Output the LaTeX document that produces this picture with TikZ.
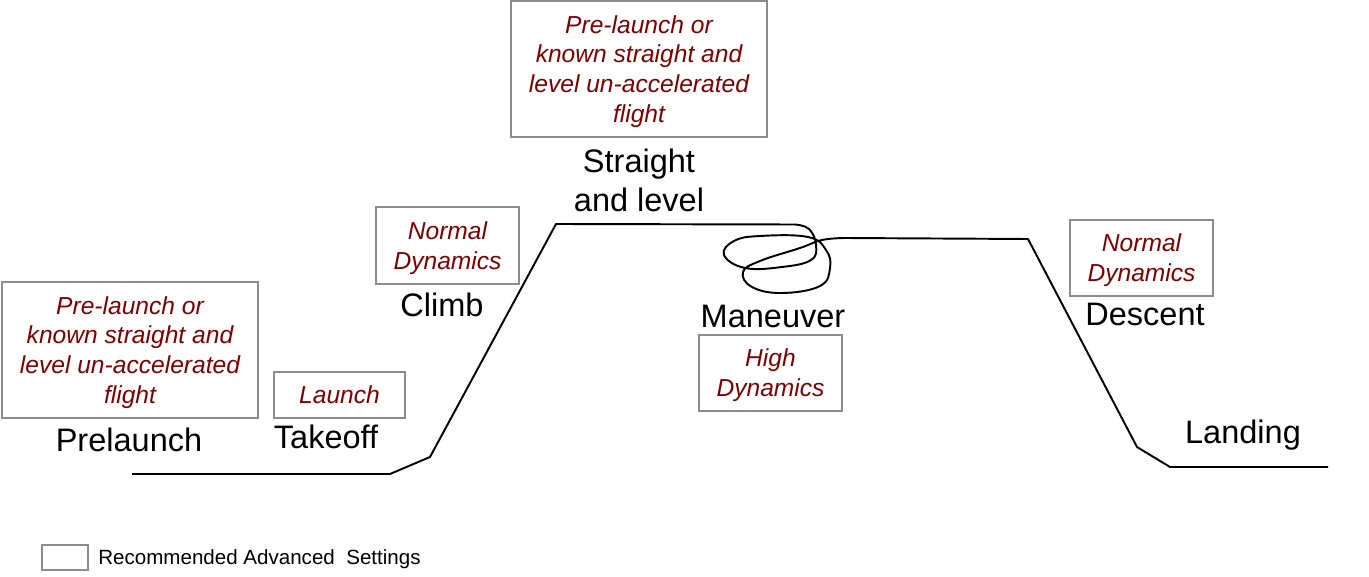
\documentclass[tikz,border=0pt]{standalone}
\usepackage{fontspec}
\setmainfont{Liberation Sans}
\usepackage{xcolor}
\usetikzlibrary{positioning,calc}
\definecolor{settingred}{HTML}{800000}
\definecolor{boxgray}{HTML}{8C8C8C}

\begin{document}
\begin{tikzpicture}[
  x=0.2mm,y=-0.2mm,
  setbox/.style={draw=boxgray, line width=1.1pt, align=center, inner sep=0pt, text=settingred, font=\fontsize{14}{17}\selectfont\itshape},
  lowered/.style={text depth=-2.8pt},
  phase/.style={align=center, inner sep=0pt, font=\fontsize{18.5}{22.2}\selectfont},
  profile/.style={line width=1.1pt, line join=round}
]
\useasboundingbox (0,0) rectangle (1369,577);
\node[setbox, lowered, minimum width=51.2mm, minimum height=27.2mm] (prebox) at (130,350) {Pre-launch or\\known straight and\\level un-accelerated\\flight};
\node[setbox, minimum width=26.2mm, minimum height=9.2mm] (launchbox) at (339.5,395) {Launch};
\node[setbox, lowered, minimum width=28.6mm, minimum height=15.4mm] (climbbox) at (447.5,245.5) {Normal\\Dynamics};
\node[setbox, lowered, minimum width=51.2mm, minimum height=27.2mm] (levelbox) at (639,69) {Pre-launch or\\known straight and\\level un-accelerated\\flight};
\node[setbox, lowered, minimum width=28.6mm, minimum height=15.2mm] (manbox) at (770.5,373) {High\\Dynamics};
\node[setbox, lowered, minimum width=28.6mm, minimum height=15.2mm] (descbox) at (1141.5,258) {Normal\\Dynamics};
\node[phase] (prelaunch) at (129,440) {Prelaunch};
\node[phase] (takeoff) at (326,437) {Takeoff};
\node[phase] (climb) at (442,305) {Climb};
\node[phase] (level) at (639,180) {Straight\\and level};
\node[phase] (maneuver) at (773,316) {Maneuver};
\node[phase] (descent) at (1145,314) {Descent};
\node[phase] (landing) at (1243,435) {Landing};
\node[setbox, minimum width=9.2mm, minimum height=5mm] (legbox) at (65,557.5) {};
\node[anchor=west, inner sep=0pt, font=\fontsize{11.7}{14}\selectfont] (legtext) at (98,559) {Recommended Advanced\ \ Settings};
\coordinate (p0) at (132,474);
\coordinate (p1) at (390,474);
\coordinate (p2) at (430,457);
\coordinate (p3) at (556,224);
\coordinate (p4) at (795,224.5);
\coordinate (p5) at (845,238);
\coordinate (p6) at (1028,239);
\coordinate (p7) at (1137,447);
\coordinate (p8) at (1170,467);
\coordinate (p9) at (1328,467);
\draw[profile] (p0) -- (p1) -- (p2) -- (p3) -- (p4)
  -- plot[smooth, tension=0.7] coordinates {(p4) (809,229) (816,245) (811,260) (782,267) (745,268) (724,255) (734,241) (760,236) (808,237) (826,250) (830,268) (820,286) (782,293) (752,287) (743,272) (760,261) (800,248) (822,240) (p5)}
  -- (p6) -- (p7) -- (p8) -- (p9);
\end{tikzpicture}
\end{document}
